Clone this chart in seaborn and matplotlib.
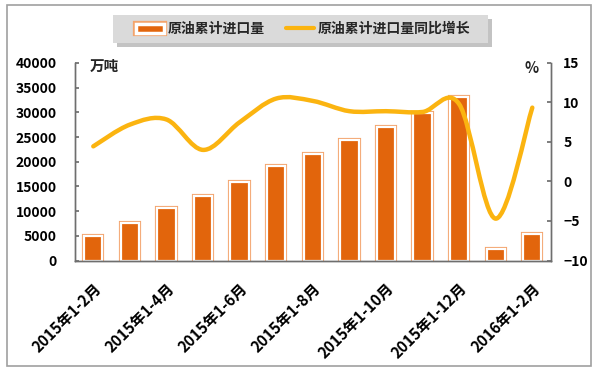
import numpy as np
import pandas as pd
import seaborn as sns
import matplotlib
matplotlib.use("Agg")
import matplotlib.pyplot as plt
from matplotlib.path import Path
from matplotlib.patches import PathPatch, Rectangle
from matplotlib.lines import Line2D
import matplotlib.patheffects as pe

# ---------------- data ----------------
categories = ['2015年1-2月', '2015年1-3月', '2015年1-4月', '2015年1-5月', '2015年1-6月',
              '2015年1-7月', '2015年1-8月', '2015年1-9月', '2015年1-10月', '2015年1-11月',
              '2015年1-12月', '2016年1月', '2016年1-2月']
import_volume = [4950, 7650, 10650, 13050, 15950, 19100, 21650, 24500, 27050, 29950, 33200, 2250, 5400]
yoy_growth = [4.45, 7.2, 7.85, 4.0, 7.5, 10.5, 10.2, 8.9, 8.9, 8.8, 9.8, -4.7, 9.35]
left_ticks = [0, 5000, 10000, 15000, 20000, 25000, 30000, 35000, 40000]
right_ticks = [-10, -5, 0, 5, 10, 15]
bar_label = '原油累计进口量'
line_label = '原油累计进口量同比增长'
left_unit = '万吨'
right_unit = '%'

# ---------------- style ----------------
sns.set_theme(style='white')
plt.rcParams['font.family'] = ['Noto Sans CJK SC', 'DejaVu Sans']
plt.rcParams['font.weight'] = 'bold'

ORANGE = '#E2650C'
PEACH = '#F3A46C'
GOLD = '#FBB410'
SPINE = '#6E6E6E'

fig = plt.figure(figsize=(6.0, 3.72), dpi=100)
ax = fig.add_axes([75 / 600, 1 - 260.5 / 372, (550.6 - 75) / 600, (260.5 - 63) / 372])
ax2 = ax.twinx()

df = pd.DataFrame({'cat': categories, 'vol': import_volume, 'yoy': yoy_growth})

sns.barplot(data=df, x='cat', y='vol', ax=ax, color=ORANGE, saturation=1,
            width=0.5, edgecolor='white', linewidth=1.6, zorder=2)
bar_effects = [pe.Stroke(linewidth=1.6 + 1.4, foreground=PEACH), pe.Normal()]
for p in ax.patches:
    p.set_path_effects(bar_effects)

# smooth (Excel-like) line through the data points
xs = np.arange(len(yoy_growth), dtype=float)
ys = np.asarray(yoy_growth, dtype=float)
pts = np.column_stack([xs, ys])
verts = [tuple(pts[0])]
codes = [Path.MOVETO]
n = len(pts)
for i in range(n - 1):
    p0 = pts[i - 1] if i > 0 else pts[i]
    p1 = pts[i]
    p2 = pts[i + 1]
    p3 = pts[i + 2] if i + 2 < n else pts[i + 1]
    c1 = p1 + (p2 - p0) / 6.0
    c2 = p2 - (p3 - p1) / 6.0
    verts += [tuple(c1), tuple(c2), tuple(p2)]
    codes += [Path.CURVE4] * 3
ax2.add_patch(PathPatch(Path(verts, codes), fill=False, edgecolor=GOLD, lw=3.2,
                        capstyle='round', joinstyle='round', zorder=3))

# ---------------- axes ----------------
ax.set_ylim(0, 40000)
ax.set_yticks(left_ticks)
ax2.set_ylim(-10, 15)
ax2.set_yticks(right_ticks)
ax.set_xlim(-0.5, len(categories) - 0.5)

ax.set_xticks(range(0, len(categories), 2))
ax.set_xticklabels(categories[::2], rotation=45, ha='right', va='top',
                   rotation_mode='anchor', fontsize=11, fontweight='bold')
ax.set_xlabel('')
ax.set_ylabel('')
ax2.set_ylabel('')

for a in (ax, ax2):
    for s in a.spines.values():
        s.set_color(SPINE)
        s.set_linewidth(1.0)
    a.spines['top'].set_visible(False)
    a.grid(False)

ax.tick_params(axis='y', direction='in', length=3, color=SPINE, pad=13,
               labelsize=10, labelcolor='black')
ax.tick_params(axis='x', length=0, pad=14, labelcolor='black')
ax2.tick_params(axis='y', direction='in', length=3, color=SPINE, pad=9,
                labelsize=10, labelcolor='black')
for lab in ax.get_yticklabels() + ax2.get_yticklabels():
    lab.set_fontweight('bold')

fig.text(90 / 600, 1 - 66 / 372, left_unit, ha='left', va='center',
         fontsize=10.5, fontweight='bold')
fig.text(532 / 600, 1 - 68 / 372, right_unit, ha='center', va='center',
         fontsize=10.5, fontweight='bold')

# ---------------- legend ----------------
# box with shadow
fig.patches.append(Rectangle((117 / 600, 1 - 47 / 372), (488 - 113) / 600, (43 - 15) / 372,
                             transform=fig.transFigure, facecolor='#9C9C9C',
                             edgecolor='none', alpha=0.6, zorder=0))
fig.patches.append(Rectangle((113 / 600, 1 - 43 / 372), (488 - 113) / 600, (43 - 15) / 372,
                             transform=fig.transFigure, facecolor='#DADADA',
                             edgecolor='none', zorder=0.5))

bar_handle = Rectangle((0, 0), 1, 1, facecolor=ORANGE, edgecolor='white', lw=2.5,
                       path_effects=[pe.Stroke(linewidth=2.5 + 2.0, foreground=PEACH),
                                     pe.Normal()])
line_handle = Line2D([], [], color=GOLD, lw=3)
leg = fig.legend([bar_handle, line_handle], [bar_label, line_label],
                 loc='center', bbox_to_anchor=(303 / 600, 1 - 29 / 372), ncol=2,
                 frameon=False, prop={'weight': 'bold', 'size': 10},
                 handlelength=2.0, handleheight=0.6, handletextpad=0.25,
                 columnspacing=1.55, borderpad=0.3)

# outer frame
fig.patches.append(Rectangle((7 / 600, 1 - 366 / 372), (591 - 7) / 600, (366 - 5) / 372,
                             transform=fig.transFigure, fill=False,
                             edgecolor='#A0A0A0', lw=1.2))

fig.savefig('out.png', dpi=100)
